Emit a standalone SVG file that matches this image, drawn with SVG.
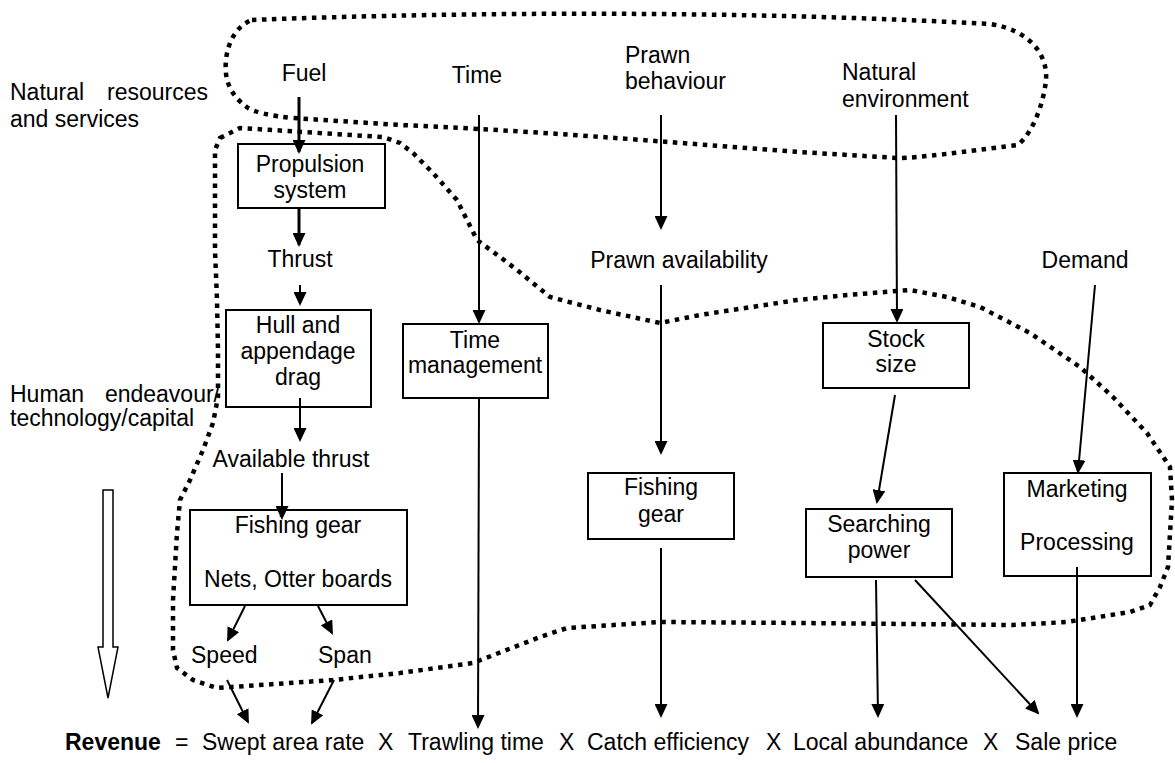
<svg xmlns="http://www.w3.org/2000/svg" width="1175" height="763" viewBox="0 0 1175 763">
<style>
text{font-family:"Liberation Sans",Arial,sans-serif;font-size:23px;fill:#000}
.c{text-anchor:middle}
.e{text-anchor:end}
.box{fill:#fff;stroke:#000;stroke-width:2}
.a{stroke:#000;stroke-width:2;fill:none;marker-end:url(#ah)}
.t{stroke-width:3}
.dot{fill:none;stroke:#000;stroke-width:4.5;stroke-dasharray:4.5 5.5}
</style>
<defs>
<marker id="ah" viewBox="0 0 14 13" refX="12" refY="6.5" markerWidth="14" markerHeight="13" markerUnits="userSpaceOnUse" orient="auto">
<path d="M0,0 L14,6.5 L0,13 Z" fill="#000"/>
</marker>
</defs>
<g id="regions">
<path class="dot" d="M252,20 C400,14 700,8 990,24 C1030,30 1048,55 1046,80 C1044,100 1035,130 1018,145 C960,152 920,158 897,158 L800,152 C700,145 560,132 400,125 L293,118 C270,116 255,112 248,108 C230,95 224,80 226,60 C228,40 238,25 252,20 Z"/>
<path class="dot" d="M220,138 L240,128 L383,137 L400,143 L413,153 L433,173 L457,200 L477,240 L500,257 L517,270 L550,297 L600,310 L660,323 L700,315 L797,300 L847,295 L910,290 L947,297 L980,307 L1030,333 L1080,367 L1113,397 L1147,433 L1170,467 L1172,500 L1168,567 L1160,587 L1150,605 L1130,612 L1067,622 L1013,625 L800,623 L660,622 L567,628 L540,637 L473,663 L400,673 L333,680 L217,688 L193,680 L177,668 L173,650 L173,600 L177,533 L180,500 L190,480 L203,450 L213,423 L218,397 L218,350 L217,300 L215,250 L215,150 Z"/>
</g>
<g id="side-labels">
<text x="10" y="100">Natural</text><text class="e" x="208" y="100">resources</text>
<text x="10" y="127">and services</text>
<text x="10" y="402">Human</text><text class="e" x="220" y="402">endeavour/</text>
<text x="10" y="426">technology/capital</text>
<polygon points="103,490 113,490 113,647 118,647 108,698 98,647 103,647" fill="#fff" stroke="#000" stroke-width="1.5"/>
</g>
<g id="fuel"><text class="c" x="304" y="81">Fuel</text></g>
<g id="time"><text class="c" x="477" y="83">Time</text></g>
<g id="prawn-behaviour"><text x="625" y="63">Prawn</text><text x="625" y="89">behaviour</text></g>
<g id="natural-environment"><text x="842" y="80">Natural</text><text x="842" y="107">environment</text></g>
<g id="propulsion"><rect class="box" x="238" y="144" width="147" height="64"/><text class="c" x="310" y="172">Propulsion</text><text class="c" x="310" y="198">system</text></g>
<g id="thrust"><text class="c" x="300" y="267">Thrust</text></g>
<g id="hull"><rect class="box" x="226" y="310" width="145" height="97"/><text class="c" x="298" y="333">Hull and</text><text class="c" x="298" y="359">appendage</text><text class="c" x="298" y="385">drag</text></g>
<g id="available-thrust"><text class="c" x="291" y="467">Available thrust</text></g>
<g id="fishing-gear-left"><rect class="box" x="190" y="510" width="217" height="95"/><text class="c" x="298" y="533">Fishing gear</text><text class="c" x="298" y="587">Nets, Otter boards</text></g>
<g id="speed"><text x="191" y="663">Speed</text></g>
<g id="span"><text x="318" y="663">Span</text></g>
<g id="time-management"><rect class="box" x="403" y="324" width="145" height="74"/><text class="c" x="475" y="348">Time</text><text class="c" x="475" y="373">management</text></g>
<g id="prawn-availability"><text class="c" x="679" y="268">Prawn availability</text></g>
<g id="fishing-gear"><rect class="box" x="588" y="473" width="146" height="66"/><text class="c" x="661" y="495">Fishing</text><text class="c" x="661" y="522">gear</text></g>
<g id="stock-size"><rect class="box" x="823" y="323" width="146" height="65"/><text class="c" x="896" y="347">Stock</text><text class="c" x="896" y="372">size</text></g>
<g id="demand"><text class="c" x="1085" y="268">Demand</text></g>
<g id="searching-power"><rect class="box" x="806" y="509" width="146" height="68"/><text class="c" x="879" y="532">Searching</text><text class="c" x="879" y="558">power</text></g>
<g id="marketing"><rect class="box" x="1004" y="473" width="147" height="103"/><text class="c" x="1077" y="497">Marketing</text><text class="c" x="1077" y="550">Processing</text></g>
<g id="connectors">
<line class="a t" x1="299" y1="97" x2="299" y2="152"/>
<line class="a t" x1="299" y1="208" x2="299" y2="245"/>
<line class="a" x1="300" y1="285" x2="300" y2="304"/>
<line class="a" x1="300" y1="398" x2="300" y2="440"/>
<line class="a" x1="282" y1="473" x2="282" y2="518"/>
<line class="a" x1="245" y1="606" x2="228" y2="640"/>
<line class="a" x1="318" y1="606" x2="332" y2="633"/>
<line class="a" x1="227" y1="680" x2="248" y2="722"/>
<line class="a" x1="334" y1="680" x2="312" y2="723"/>
<line class="a" x1="479" y1="115" x2="479" y2="322"/>
<line class="a" x1="479" y1="398" x2="478" y2="727"/>
<line class="a" x1="661" y1="115" x2="661" y2="228"/>
<line class="a" x1="661" y1="285" x2="661" y2="453"/>
<line class="a" x1="661" y1="548" x2="661" y2="716"/>
<line class="a" x1="896" y1="115" x2="897" y2="321"/>
<line class="a" x1="895" y1="395" x2="877" y2="502"/>
<line class="a" x1="1095" y1="285" x2="1078" y2="472"/>
<line class="a" x1="876" y1="580" x2="878" y2="716"/>
<line class="a" x1="915" y1="580" x2="1038" y2="713"/>
<line class="a" x1="1077" y1="567" x2="1077" y2="716"/>
</g>
<g id="equation">
<text x="65" y="750" font-weight="bold">Revenue</text>
<text x="175" y="750">=</text>
<text x="202" y="750">Swept area rate</text>
<text x="378" y="750">X</text>
<text x="408" y="750">Trawling time</text>
<text x="559" y="750">X</text>
<text x="587" y="750">Catch efficiency</text>
<text x="766" y="750">X</text>
<text x="793" y="750">Local abundance</text>
<text x="983" y="750">X</text>
<text x="1015" y="750">Sale price</text>
</g>
</svg>
